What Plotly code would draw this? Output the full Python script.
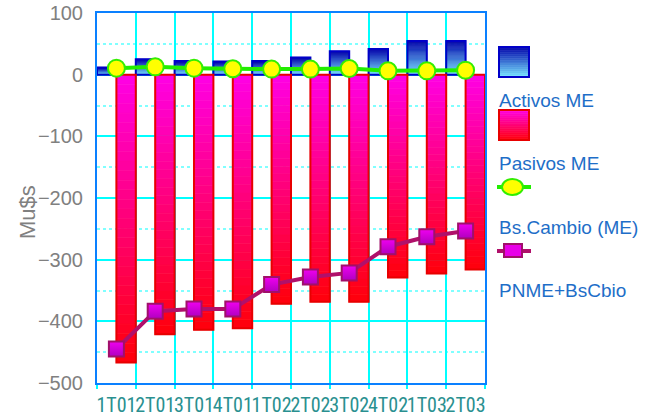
import plotly.graph_objects as go

# ---- data ----
periods = ["1T01", "2T01", "3T01", "4T01", "1T02", "2T02", "3T02", "4T02", "1T03", "2T03"]
activos = [11.7, 25, 22, 21.5, 22, 28, 38, 41.6, 54.6, 54.6]
pasivos = [-466.6, -421, -413.8, -411.2, -371.4, -368.2, -368.2, -329, -322.5, -316]
bscambio = [10.6, 12.7, 10.6, 9.5, 9, 9, 10, 6.2, 6.2, 7.3]
pnme = [-444.8, -383.5, -380.2, -380.2, -340.4, -328, -321.5, -279, -262.8, -253.5]
series_names = ["Activos ME", "Pasivos ME", "Bs.Cambio (ME)", "PNME+BsCbio"]

W, H = 650, 416
L, R, T, B = 97, 485, 13, 383


def lerp(c1, c2, t):
    return "rgb(%d,%d,%d)" % tuple(round(a + (b - a) * t) for a, b in zip(c1, c2))


BLUE_BASE, BLUE_END = (120, 230, 255), (0, 0, 170)
RED_BASE, RED_END = (255, 0, 230), (255, 0, 10)

fig = go.Figure()
N = 30


def gradient_bars(values, c_base, c_end, offset, edge):
    for k in range(N):
        t = (k + 0.5) / N
        col = lerp(c_base, c_end, t)
        fig.add_trace(go.Bar(
            x=periods, y=[v / N for v in values], base=[v * k / N for v in values],
            offset=offset, width=0.5, marker=dict(color=col, line=dict(color=col, width=0.6)),
            showlegend=False, hoverinfo="skip"))
    fig.add_trace(go.Bar(
        x=periods, y=values, base=[0] * len(values), offset=offset, width=0.5,
        marker=dict(color="rgba(0,0,0,0)", line=dict(color=edge, width=2)),
        showlegend=False, hoverinfo="skip"))


gradient_bars(activos, BLUE_BASE, BLUE_END, -0.5, "#0000C8")
gradient_bars(pasivos, RED_BASE, RED_END, 0.0, "#E80000")

fig.add_trace(go.Scatter(
    x=periods, y=bscambio, mode="lines+markers", name=series_names[2],
    line=dict(color="#22EE00", width=4),
    marker=dict(symbol="circle", size=17, color="#FFFF00", line=dict(color="#33EE00", width=2)),
    showlegend=False))
fig.add_trace(go.Scatter(
    x=periods, y=pnme, mode="lines+markers", name=series_names[3],
    line=dict(color="#B0106A", width=4),
    marker=dict(symbol="square", size=15, color="#F000F0",
                gradient=dict(type="vertical", color="#B000C0"),
                line=dict(color="#A0106A", width=2)),
    showlegend=False))


def pxx(x):
    return (x - L) / (R - L)


def pyy(y):
    return (B - y) / (B - T)


shapes = []


def grad_rect(x0, x1, y0, y1, ctop, cbot, edge):
    n = 16
    for k in range(n):
        ya = y0 + (y1 - y0) * k / n
        yb = y0 + (y1 - y0) * (k + 1) / n
        col = lerp(ctop, cbot, (k + 0.5) / n)
        shapes.append(dict(type="rect", xref="paper", yref="paper",
                           x0=pxx(x0), x1=pxx(x1), y0=pyy(ya), y1=pyy(yb),
                           fillcolor=col, line=dict(width=0.6, color=col), layer="above"))
    shapes.append(dict(type="rect", xref="paper", yref="paper",
                       x0=pxx(x0), x1=pxx(x1), y0=pyy(y0), y1=pyy(y1),
                       fillcolor="rgba(0,0,0,0)", line=dict(width=2, color=edge), layer="above"))


grad_rect(499, 529, 47, 77, BLUE_END, BLUE_BASE, "#0000C8")
grad_rect(499, 529, 110, 140, RED_BASE, RED_END, "#E80000")
# Bs.Cambio legend symbol
shapes.append(dict(type="line", xref="paper", yref="paper", x0=pxx(497), x1=pxx(531),
                   y0=pyy(187), y1=pyy(187), line=dict(color="#22EE00", width=4)))
shapes.append(dict(type="circle", xref="paper", yref="paper", x0=pxx(502), x1=pxx(523),
                   y0=pyy(195), y1=pyy(179), fillcolor="#FFFF00",
                   line=dict(color="#33EE00", width=2)))
# PNME legend symbol
shapes.append(dict(type="line", xref="paper", yref="paper", x0=pxx(497), x1=pxx(531),
                   y0=pyy(251), y1=pyy(251), line=dict(color="#B0106A", width=4)))
shapes.append(dict(type="rect", xref="paper", yref="paper", x0=pxx(504), x1=pxx(522),
                   y0=pyy(257), y1=pyy(244), fillcolor="#E800E8",
                   line=dict(color="#A0106A", width=2)))

annotations = []
for name, yc in zip(series_names, [100, 163, 227, 290]):
    annotations.append(dict(text=name, xref="paper", yref="paper", x=pxx(497), y=pyy(yc),
                            xanchor="left", yanchor="middle", showarrow=False,
                            font=dict(family="Liberation Sans, Arial", size=19, color="#1E6EC8")))
annotations.append(dict(text="Mu$s", xref="paper", yref="paper", x=pxx(27), y=pyy(212),
                        xanchor="center", yanchor="middle", textangle=-90, showarrow=False,
                        font=dict(family="Liberation Sans, Arial", size=22, color="#808080")))

fig.update_layout(
    width=W, height=H, margin=dict(l=L, r=W - R, t=T, b=H - B, autoexpand=False),
    paper_bgcolor="white", plot_bgcolor="white", barmode="overlay",
    showlegend=False, shapes=shapes, annotations=annotations,
    xaxis=dict(type="category", tickson="boundaries", showgrid=True, gridcolor="#00FFFF",
               gridwidth=2, ticks="outside", ticklen=4, tickcolor="#00FFFF", tickwidth=2,
               showline=True, linecolor="#0A80FF", linewidth=2, mirror=True,
               tickangle=0, automargin=False, ticklabelstandoff=3,
               tickfont=dict(family="Liberation Sans Narrow, Roboto Condensed, Liberation Sans",
                             size=20, color="#2A9090"),
               range=[-0.5, 9.5], zeroline=False),
    yaxis=dict(range=[-500, 100], dtick=100, tick0=0, showgrid=True, gridcolor="#00FFFF",
               gridwidth=2, showline=True, linecolor="#0A80FF", linewidth=2, mirror=True,
               zeroline=False, ticks="", ticklabelstandoff=8, automargin=False,
               minor=dict(dtick=50, showgrid=True, gridcolor="#80FFFF", griddash="dot", gridwidth=2),
               tickfont=dict(family="Liberation Sans, Arial", size=20, color="#808080")),
)

fig.write_html("out.html")
